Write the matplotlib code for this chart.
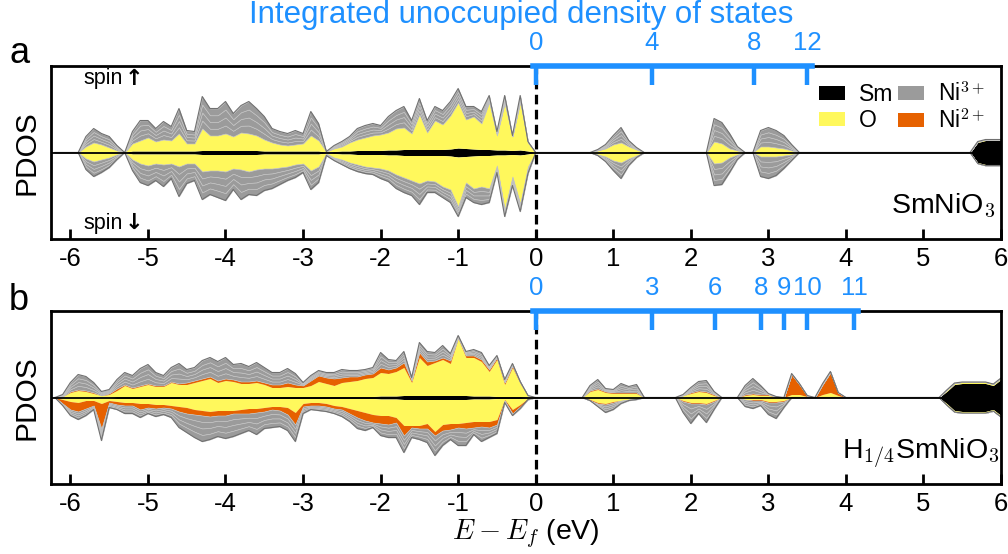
import numpy as np
import matplotlib
matplotlib.use('Agg')
import matplotlib.pyplot as plt
from matplotlib.patches import Patch

plt.rcParams['font.family'] = ['Liberation Sans', 'DejaVu Sans']
plt.rcParams['mathtext.fontset'] = 'cm'
plt.rcParams['axes.unicode_minus'] = False

# energy grid (eV), -6.2 ... 6.0
energy = np.round(np.arange(-62, 61) * 0.1, 1)

# ---------------- SmNiO3 (panel a) ----------------
# each list: 63 valence points (-6.2..0.0) + 60 conduction points (0.1..6.0)
a_sm = [0, 0, 0, 0, 0.3, 0.3, 0.3, 0.3, 0.3, 0,
        1.5, 1.5, 1.5, 1.5, 1.5, 1.5, 1.5, 1.5, 1.5, 2,
        2, 2, 2, 2, 2, 2, 2, 1.5, 1.5, 1.5,
        1.5, 1.5, 1.5, 1.5, 1.5, 0.3, 1, 1.5, 1.5, 2,
        2, 2, 2, 2.5, 2.5, 3, 3, 3, 3, 3,
        3, 3.5, 4.5, 4, 3.5, 3, 3, 2.5, 2.5, 2,
        2.5, 1.5, 0] + \
       [0, 0, 0, 0, 0, 0, 0, 0, 0, 0,
        0, 0, 0, 0, 0, 0, 0, 0, 0, 0,
        0, 0, 0, 0, 0, 0, 0, 0, 0, 0,
        0, 0, 0, 0, 0, 0, 0, 0, 0, 0,
        0, 0, 0, 0, 0, 0, 0, 0, 0, 0,
        0, 0, 0, 0, 0, 0, 10, 12, 12, 12]

a_o_up = [0, 0, 0, 0, 5.7, 9.7, 7.7, 4.7, 1.7, 0,
          7.5, 10.5, 13.5, 9.5, 11.5, 10.5, 17.5, 7.5, 7.5, 22,
          15, 15, 17, 14, 18, 17, 15, 11.5, 8.5, 6.5,
          5.5, 6.5, 7.5, 15.5, 10.5, 0.7, 3, 4.5, 8.5, 11,
          13, 15, 16, 17.5, 21.5, 22, 16, 35, 17, 29,
          25, 33.5, 45.5, 29, 32.5, 26, 47, 14.5, 46.5, 14,
          47.5, 8.5, 0] + \
         [0, 0, 0, 0, 0, 0, 0, 2, 4, 8,
          10, 6, 3, 0, 0, 0, 0, 0, 0, 0,
          0, 0, 11, 9, 4, 2, 0, 0, 6, 6,
          5, 4, 2, 0, 0, 0, 0, 0, 0, 0,
          0, 0, 0, 0, 0, 0, 0, 0, 0, 0,
          0, 0, 0, 0, 0, 0, 1, 1, 1, 1]

a_o_dn = [0, 0, 0, 0, 5.7, 8.7, 6.7, 4.7, 1.7, 0,
          5.5, 9.5, 11.5, 9.5, 10.5, 9.5, 12.5, 9.5, 9.5, 17,
          16, 16, 17, 14, 15, 17, 15, 14.5, 14.5, 13.5,
          12.5, 10.5, 9.5, 16.5, 12.5, 0.7, 4, 5.5, 8.5, 10,
          12, 13, 14, 15.5, 19.5, 22, 25, 28, 25, 26,
          31, 33.5, 49.5, 26, 32.5, 31, 33, 10.5, 54.5, 22,
          48.5, 12.5, 0] + \
         [0, 0, 0, 0, 0, 0, 0, 2, 4, 8,
          10, 6, 3, 0, 0, 0, 0, 0, 0, 0,
          0, 0, 11, 10, 5, 2, 0, 0, 4, 4,
          4, 3, 2, 0, 0, 0, 0, 0, 0, 0,
          0, 0, 0, 0, 0, 0, 0, 0, 0, 0,
          0, 0, 0, 0, 0, 0, 1, 1, 1, 1]

a_ni3_up = [0, 0, 0, 0, 10, 14, 11, 11, 5, 0,
            12, 20, 17, 13, 18, 14, 25, 13, 12, 32,
            27, 27, 32, 23, 27, 32, 27, 23, 14, 13,
            12, 14, 10, 24, 17, 0, 3, 5, 6, 11,
            12, 12, 9, 16, 18, 21, 13, 16, 12, 14,
            14, 14, 14, 13, 10, 12, 7, 4, 8, 1,
            7, 1, 0] + \
           [0, 0, 0, 0, 0, 0, 0, 1, 4, 9,
            15, 6, 2, 0, 0, 0, 0, 0, 0, 0,
            0, 0, 23, 21, 15, 4, 0, 0, 16, 19,
            17, 13, 6, 0, 0, 0, 0, 0, 0, 0,
            0, 0, 0, 0, 0, 0, 0, 0, 0, 0,
            0, 0, 0, 0, 0, 0, 0, 0, 0, 0]

a_ni3_dn = [0, 0, 0, 0, 11, 15, 13, 10, 5, 0,
            11, 19, 20, 17, 22, 15, 30, 20, 17, 28,
            24, 27, 29, 21, 30, 23, 26, 22, 20, 17,
            14, 13, 9, 19, 16, 2, 3, 5, 6, 7,
            7, 7, 10, 11, 14, 15, 15, 21, 12, 11,
            11, 13, 10, 15, 14, 18, 14, 7, 7, 9,
            8, 7, 0] + \
           [0, 0, 0, 0, 0, 0, 0, 1, 5, 10,
            16, 7, 2, 0, 0, 0, 0, 0, 0, 0,
            0, 0, 22, 22, 15, 5, 0, 0, 20, 22,
            19, 13, 6, 0, 0, 0, 0, 0, 0, 0,
            0, 0, 0, 0, 0, 0, 0, 0, 0, 0,
            0, 0, 0, 0, 0, 0, 0, 0, 0, 0]

a_ni2 = [0] * 123  # no Ni2+ in SmNiO3

a_int_energy = [0, 1.5, 2.81, 3.5]
a_int_labels = ['0', '4', '8', '12']

# ---------------- H1/4SmNiO3 (panel b) ----------------
b_sm = [0, 0.3, 0.3, 0.3, 0.3, 0.3, 0.3, 0.3, 1, 1,
        1, 1, 1, 1, 1, 1, 1, 1, 1, 1,
        1, 1, 1, 1, 1, 1, 1, 1, 1, 1,
        1, 1, 1, 1, 1, 1, 1, 1, 1, 1,
        1, 1, 1.5, 1.5, 1.5, 2, 2, 2, 2, 2,
        2, 2, 2, 2, 1.5, 1.5, 1.5, 1, 1, 1,
        1, 0.5, 0] + \
       [0, 0, 0, 0, 0, 0, 0, 0, 0, 0,
        0, 0, 0, 0, 0, 0, 0, 0, 0, 0,
        0, 0, 0, 0, 0, 0, 0, 0, 0, 0,
        0, 0, 0, 0, 0, 0, 0, 0, 0, 0,
        0, 0, 0, 0, 0, 0, 0, 0, 0, 0,
        0, 0, 6, 13, 14, 14, 14, 14, 12, 18]

b_o_up = [0, 0.7, 4.7, 6.7, 5.7, 3.7, 1.7, 2.7, 6, 11,
          8, 10, 12, 10, 10, 14, 12, 12, 14, 16,
          18, 14, 16, 15, 13, 13, 14, 12, 9, 9,
          10, 9, 9, 11, 15, 13, 11, 14, 15, 16,
          18, 19, 23.5, 22.5, 24.5, 28, 13, 38, 30, 33,
          36, 32, 57, 38, 38.5, 34.5, 24.5, 37, 12, 29,
          13, 1.5, 0] + \
         [0, 0, 0, 0, 0, 0, 6, 8, 5, 4,
          4, 4, 4, 0, 0, 0, 0, 0, 2, 4,
          6, 5, 2, 0, 0, 0, 2, 3, 2, 2,
          1, 0, 3, 3, 1, 0, 3, 5, 2, 0,
          0, 0, 0, 0, 0, 0, 0, 0, 0, 0,
          0, 0, 1.5, 1.5, 1.5, 1.5, 1.5, 1.5, 1.5, 1.5]

b_o_dn = [0, 1.7, 3.7, 4.7, 2.7, 2.7, 5.7, 2.7, 3, 4,
          4, 5, 5, 6, 6, 7, 8, 9, 11, 12,
          13, 12, 12, 12, 11, 10, 10, 9, 8, 8,
          9, 14, 5, 4, 4, 5, 7, 8, 10, 12,
          14, 16, 16.5, 16.5, 18.5, 26, 26, 26, 24, 32,
          25, 24, 24, 23, 22.5, 22.5, 22.5, 21, 1, 11,
          6, 0.5, 0] + \
         [0, 0, 0, 0, 0, 0, 2, 5, 6, 4,
          3, 2, 1, 0, 0, 0, 0, 0, 3, 5,
          5, 6, 3, 0, 0, 0, 2, 2, 2, 4,
          4, 3, 0, 0, 0, 0, 0, 0, 0, 0,
          0, 0, 0, 0, 0, 0, 0, 0, 0, 0,
          0, 0, 1.5, 1.5, 1.5, 1.5, 1.5, 1.5, 1.5, 1.5]

b_ni2_up = [0, 0, 1, 1, 1, 1, 0, 1, 2, 1,
            1, 1, 1, 1, 1, 1, 1, 2, 2, 2,
            2, 2, 2, 2, 2, 2, 2, 2, 3, 3,
            4, 3, 2, 5, 6, 6, 7, 5, 5, 4,
            4, 4, 5, 4, 4, 5, 2, 5, 4, 2,
            2, 3, 1, 2, 2, 2, 2, 2, 2, 2,
            1, 0, 0] + \
           [0, 0, 0, 0, 0, 0, 1, 1, 1, 1,
            1, 1, 1, 0, 0, 0, 0, 0, 0, 1,
            1, 1, 1, 0, 0, 0, 1, 1, 1, 1,
            0, 0, 20, 10, 1, 0, 10, 20, 3, 0,
            0, 0, 0, 0, 0, 0, 0, 0, 0, 0,
            0, 0, 0, 0, 0, 0, 0, 0, 0, 0]

b_ni2_dn = [0, 4, 8, 9, 8, 5, 25, 2, 3, 3,
            3, 6, 4, 4, 3, 3, 5, 6, 5, 5,
            5, 5, 5, 3, 4, 5, 4, 4, 3, 4,
            7, 12, 3, 3, 3, 3, 3, 3, 5, 7,
            8, 8, 8, 9, 5, 10, 2, 3, 5, 4,
            6, 6, 4, 6, 6, 5, 6, 5, 1, 4,
            2, 1, 0] + \
           [0, 0, 0, 0, 0, 0, 1, 1, 1, 1,
            0, 0, 0, 0, 0, 0, 0, 0, 1, 1,
            1, 1, 1, 0, 0, 0, 0, 1, 1, 1,
            1, 1, 0, 0, 0, 0, 0, 0, 0, 0,
            0, 0, 0, 0, 0, 0, 0, 0, 0, 0,
            0, 0, 0, 0, 0, 0, 0, 0, 0, 0]

b_ni3_up = [0, 2, 9, 15, 14, 10, 4, 4, 9, 12,
            12, 17, 19, 13, 10, 14, 20, 13, 13, 18,
            19, 19, 21, 15, 18, 15, 18, 15, 12, 12,
            14, 11, 3, 5, 5, 5, 6, 8, 6, 6,
            5, 6, 15, 10, 7, 11, 3, 10, 10, 8,
            12, 7, 2, 4, 6, 7, 4, 2, 3, 2,
            1, 0, 0] + \
           [0, 0, 0, 0, 0, 0, 5, 9, 3, 3,
            9, 6, 8, 0, 0, 0, 0, 0, 1, 5,
            9, 11, 3, 0, 0, 0, 9, 15, 9, 1,
            0, 0, 1, 1, 0, 0, 1, 1, 0, 0,
            0, 0, 0, 0, 0, 0, 0, 0, 0, 0,
            0, 0, 0, 0, 0, 0, 0, 0, 0, 0]

b_ni3_dn = [0, 2, 6, 8, 7, 4, 12, 5, 5, 8,
            8, 8, 6, 8, 7, 9, 16, 19, 23, 26,
            23, 21, 23, 23, 20, 17, 22, 17, 18, 16,
            16, 17, 7, 4, 5, 5, 5, 7, 8, 11,
            10, 5, 12, 13, 15, 17, 10, 11, 14, 20,
            15, 10, 18, 17, 7, 15, 10, 9, 2, 2,
            2, 0, 0] + \
           [0, 0, 0, 0, 0, 0, 0, 3, 8, 7,
            3, 1, 1, 0, 0, 0, 0, 0, 11, 20,
            10, 18, 8, 0, 0, 0, 7, 8, 5, 12,
            16, 6, 0, 0, 0, 0, 0, 0, 0, 0,
            0, 0, 0, 0, 0, 0, 0, 0, 0, 0,
            0, 0, 0, 0, 0, 0, 0, 0, 0, 0]

b_int_energy = [0, 1.5, 2.31, 2.91, 3.2, 3.5, 4.11]
b_int_labels = ['0', '3', '6', '8', '9', '10', '11']

c_sm = 'black'
c_o = '#fff85c'
c_ni2 = '#e66100'
c_ni3 = '#9b9b9b'
c_blue = '#1e90ff'


def draw_pdos(ax, sm, o, ni2, ni3, sign):
    base = np.zeros(len(energy))
    for vals, col in zip([sm, o, ni2], [c_sm, c_o, c_ni2]):
        top = base + np.asarray(vals, dtype=float)
        ax.fill_between(energy, sign * base, sign * top, color=col, lw=0)
        base = top
    # Ni3+ drawn in several sheets -> faint inner lines
    part = np.asarray(ni3, dtype=float) / 4
    for k in range(4):
        top = base + part
        ax.fill_between(energy, sign * base, sign * top, facecolor=c_ni3,
                        edgecolor='#c4c4c4', lw=0.45)
        base = top
    ax.plot(energy, sign * base, color='#707070', lw=0.8)


def style_axes(ax):
    ax.set_xlim(-6.25, 6)
    ax.set_ylim(-86.5, 86.5)
    ax.set_yticks([])
    ax.set_xticks(range(-6, 7))
    ax.tick_params(axis='x', direction='in', length=7, width=2, labelsize=18.5, pad=6)
    for s in ax.spines.values():
        s.set_linewidth(2)
    ax.axhline(0, color='k', lw=1.3, zorder=5)
    ax.axvline(0, color='k', lw=2.3, ls=(0, (3, 1.7)), zorder=6)
    ax.set_ylabel('PDOS', fontsize=21.5)
    ax.yaxis.set_label_coords(-0.011, 0.5)


def int_axis(ax, pos, labels, end):
    top = ax.twiny()
    top.set_xlim(ax.get_xlim())
    top.set_xticks(pos)
    top.set_xticklabels(labels)
    top.tick_params(axis='x', direction='in', length=14, width=3.2,
                    colors=c_blue, labelsize=18.5, pad=8)
    for s in ['left', 'right', 'bottom']:
        top.spines[s].set_visible(False)
    top.spines['top'].set_color(c_blue)
    top.spines['top'].set_linewidth(4)
    top.spines['top'].set_bounds(-0.03, end)


fig = plt.figure(figsize=(10.08, 5.54), dpi=100)
ax_a = fig.add_axes([51 / 1008, 1 - 239 / 554, 950 / 1008, 173 / 554])
ax_b = fig.add_axes([51 / 1008, 1 - 484 / 554, 950 / 1008, 173 / 554])

draw_pdos(ax_a, a_sm, a_o_up, a_ni2, a_ni3_up, 1)
draw_pdos(ax_a, a_sm, a_o_dn, a_ni2, a_ni3_dn, -1)
draw_pdos(ax_b, b_sm, b_o_up, b_ni2_up, b_ni3_up, 1)
draw_pdos(ax_b, b_sm, b_o_dn, b_ni2_dn, b_ni3_dn, -1)

for ax in (ax_a, ax_b):
    style_axes(ax)

int_axis(ax_a, a_int_energy, a_int_labels, 3.56)
int_axis(ax_b, b_int_energy, b_int_labels, 4.15)

ax_a.text(0.034, 0.925, 'spin', transform=ax_a.transAxes, fontsize=15.5, va='center')
ax_a.text(0.034, 0.092, 'spin', transform=ax_a.transAxes, fontsize=15.5, va='center')
ax_a.text(0.0875, 0.925, '\u2191', transform=ax_a.transAxes, fontsize=16, va='center',
          ha='center', family='DejaVu Sans', fontweight='bold')
ax_a.text(0.0875, 0.092, '\u2193', transform=ax_a.transAxes, fontsize=16, va='center',
          ha='center', family='DejaVu Sans', fontweight='bold')
ax_a.text(0.994, 0.152, 'SmNiO$_3$', transform=ax_a.transAxes, fontsize=20.5,
          ha='right', va='baseline')
ax_b.text(0.999, 0.150, 'H$_{1/4}$SmNiO$_3$', transform=ax_b.transAxes, fontsize=20.5,
          ha='right', va='baseline')

handles = [Patch(facecolor=c_sm), Patch(facecolor=c_o),
           Patch(facecolor=c_ni3), Patch(facecolor=c_ni2)]
labels = ['Sm', 'O', 'Ni$^{3+}$', 'Ni$^{2+}$']
ax_a.legend(handles, labels, loc='upper right', ncol=2, fontsize=16.5, frameon=False,
            handlelength=1.15, handleheight=0.55, handletextpad=0.6,
            columnspacing=0.2, labelspacing=0.12, borderaxespad=0.3)

ax_b.set_xlabel('$E - E_f$ (eV)', fontsize=20.5)
ax_b.xaxis.set_label_coords(0.5, -0.19)

fig.text(0.517, 0.973, 'Integrated unoccupied density of states', color=c_blue,
         fontsize=22.5, ha='center', va='center')
fig.text(0.009, 1 - 63 / 554, 'a', fontsize=26, ha='left', va='baseline')
fig.text(0.009, 1 - 310 / 554, 'b', fontsize=26, ha='left', va='baseline')

fig.savefig('out.png', dpi=100)
